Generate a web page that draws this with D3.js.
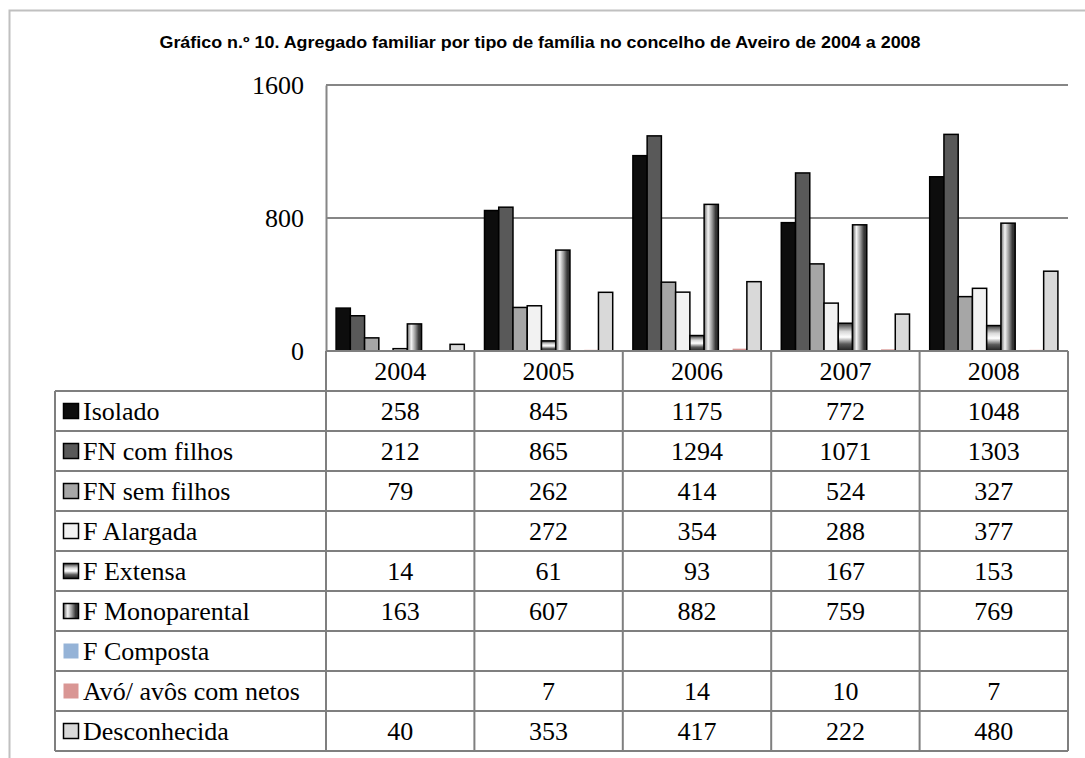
<!DOCTYPE html>
<html>
<head>
<meta charset="utf-8">
<script src="https://cdn.jsdelivr.net/npm/d3@7"></script>
<style>
  body { margin: 0; background: #fff; }
  .cell { font-family: "Liberation Serif", "Times New Roman", serif; font-size: 26px; fill: #000; }
</style>
</head>
<body>
<div id="chart"></div>
<script>
// data
var years = ["2004", "2005", "2006", "2007", "2008"];
var seriesNames = ["Isolado", "FN com filhos", "FN sem filhos", "F Alargada", "F Extensa",
                   "F Monoparental", "F Composta", "Avó/ avôs com netos", "Desconhecida"];
var isolado = [258, 845, 1175, 772, 1048];
var fnComFilhos = [212, 865, 1294, 1071, 1303];
var fnSemFilhos = [79, 262, 414, 524, 327];
var fAlargada = [null, 272, 354, 288, 377];
var fExtensa = [14, 61, 93, 167, 153];
var fMonoparental = [163, 607, 882, 759, 769];
var fComposta = [null, null, null, null, null];
var avos = [null, 7, 14, 10, 7];
var desconhecida = [40, 353, 417, 222, 480];
var yTicks = [0, 800, 1600];

var seriesValues = [isolado, fnComFilhos, fnSemFilhos, fAlargada, fExtensa,
                    fMonoparental, fComposta, avos, desconhecida];

var W = 1085, H = 758;
var plot = { left: 326, right: 1068, top: 85, bottom: 351 };
var table = { left: 55, rowH: 40 };

var svg = d3.select("#chart").append("svg")
    .attr("width", W)
    .attr("height", H);

// gradients for the two patterned series
var defs = svg.append("defs");
var gExt = defs.append("linearGradient").attr("id", "gExtensa")
    .attr("x1", 0).attr("y1", 0).attr("x2", 0).attr("y2", 1);
[[0, "#3a3a3a"], [0.3, "#d8d8d8"], [0.5, "#ffffff"], [0.75, "#5a5a5a"], [1, "#1e1e1e"]]
    .forEach(function (s) { gExt.append("stop").attr("offset", s[0]).attr("stop-color", s[1]); });
var gMono = defs.append("linearGradient").attr("id", "gMono")
    .attr("x1", 0).attr("y1", 0).attr("x2", 1).attr("y2", 0);
[[0, "#6a6a6a"], [0.28, "#f4f4f4"], [0.55, "#9a9a9a"], [0.8, "#3a3a3a"], [1, "#2a2a2a"]]
    .forEach(function (s) { gMono.append("stop").attr("offset", s[0]).attr("stop-color", s[1]); });

var fills = ["#0d0d0d", "#595959", "#a6a6a6", "#f2f2f2", "url(#gExtensa)",
             "url(#gMono)", "#95b3d7", "#d99694", "#d9d9d9"];
var bordered = [true, true, true, true, true, true, false, false, true];

// outer frame
svg.append("path")
    .attr("d", "M9.5," + (H + 2) + "V10.5H" + (W + 2))
    .attr("fill", "none")
    .attr("stroke", "#c0c0c0")
    .attr("stroke-width", 2);

// title
svg.append("text")
    .attr("x", 540)
    .attr("y", 48)
    .attr("text-anchor", "middle")
    .attr("textLength", 761)
    .attr("lengthAdjust", "spacingAndGlyphs")
    .style("font-family", "'Liberation Sans', Arial, sans-serif")
    .style("font-weight", "bold")
    .style("font-size", "16px")
    .text("Gráfico n.º 10. Agregado familiar por tipo de família no concelho de Aveiro de 2004 a 2008");

// scales
var x0 = d3.scaleBand().domain(years).range([plot.left, plot.right]);
var pad = x0.bandwidth() * 0.068;
var x1 = d3.scaleBand().domain(d3.range(seriesNames.length)).range([pad, x0.bandwidth() - pad]);
var y = d3.scaleLinear().domain([0, 1600]).range([plot.bottom, plot.top]);

// gridlines
svg.append("g").selectAll("line")
    .data(yTicks.filter(function (d) { return d > 0; }))
    .enter().append("line")
    .attr("x1", plot.left).attr("x2", plot.right)
    .attr("y1", function (d) { return y(d); })
    .attr("y2", function (d) { return y(d); })
    .attr("stroke", "#868686")
    .attr("stroke-width", 2);

// y axis
var yAxis = svg.append("g")
    .attr("transform", "translate(" + plot.left + ",0)")
    .call(d3.axisLeft(y).tickValues(yTicks).tickSize(0).tickPadding(22).tickFormat(d3.format("d")));
yAxis.select(".domain").attr("stroke", "#868686").attr("stroke-width", 2);
yAxis.selectAll("text").attr("class", "cell").attr("font-size", null).attr("font-family", null);

// bars
var bars = [];
seriesValues.forEach(function (vals, si) {
    vals.forEach(function (v, yi) {
        if (v != null) bars.push({ s: si, year: years[yi], v: v });
    });
});

svg.append("g").selectAll("rect")
    .data(bars)
    .enter().append("rect")
    .attr("x", function (d) { return x0(d.year) + x1(d.s); })
    .attr("y", function (d) { return y(d.v); })
    .attr("width", x1.bandwidth())
    .attr("height", function (d) { return y(0) - y(d.v); })
    .attr("fill", function (d) { return fills[d.s]; })
    .attr("stroke", function (d) { return bordered[d.s] ? "#000" : "none"; })
    .attr("stroke-width", 1.5);

// data table
var tg = svg.append("g");
var nRows = seriesNames.length + 1;
var tableBottom = plot.bottom + nRows * table.rowH;
var lineCol = "#7f7f7f";

// horizontal lines
for (var r = 0; r <= nRows; r++) {
    var yy = plot.bottom + r * table.rowH;
    tg.append("line")
        .attr("x1", r === 0 ? plot.left : table.left).attr("x2", plot.right)
        .attr("y1", yy).attr("y2", yy)
        .attr("stroke", lineCol).attr("stroke-width", 2);
}
// vertical lines
tg.append("line")
    .attr("x1", table.left).attr("x2", table.left)
    .attr("y1", plot.bottom + table.rowH).attr("y2", tableBottom)
    .attr("stroke", lineCol).attr("stroke-width", 2);
years.concat(["end"]).forEach(function (yr, i) {
    var xx = i < years.length ? x0(yr) : plot.right;
    tg.append("line")
        .attr("x1", xx).attr("x2", xx)
        .attr("y1", plot.bottom).attr("y2", tableBottom)
        .attr("stroke", lineCol).attr("stroke-width", 2);
});

// header row
tg.selectAll(".yr")
    .data(years)
    .enter().append("text")
    .attr("class", "cell")
    .attr("x", function (d) { return x0(d) + x0.bandwidth() / 2; })
    .attr("y", plot.bottom + table.rowH / 2)
    .attr("dy", "0.35em")
    .attr("text-anchor", "middle")
    .text(function (d) { return d; });

// series rows
seriesNames.forEach(function (name, si) {
    var cy = plot.bottom + (si + 1.5) * table.rowH;
    tg.append("rect")
        .attr("x", 63.5).attr("y", cy - 7.5)
        .attr("width", 15).attr("height", 15)
        .attr("fill", fills[si])
        .attr("stroke", bordered[si] ? "#000" : "none")
        .attr("stroke-width", 1.5);
    tg.append("text")
        .attr("class", "cell")
        .attr("x", 83)
        .attr("y", cy)
        .attr("dy", "0.35em")
        .text(name);
    seriesValues[si].forEach(function (v, yi) {
        if (v == null) return;
        tg.append("text")
            .attr("class", "cell")
            .attr("x", x0(years[yi]) + x0.bandwidth() / 2)
            .attr("y", cy)
            .attr("dy", "0.35em")
            .attr("text-anchor", "middle")
            .text(v);
    });
});
</script>
</body>
</html>
